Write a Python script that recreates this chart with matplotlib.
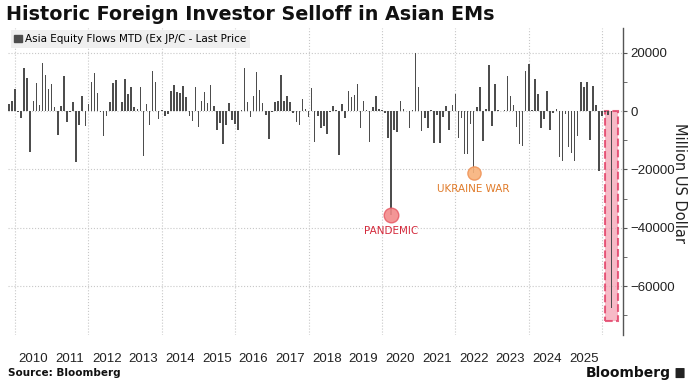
import matplotlib
matplotlib.use('Agg')
import matplotlib.pyplot as plt
import numpy as np
from matplotlib.patches import Patch, Rectangle, FancyBboxPatch

# ── Data (monthly, Million US Dollar) ─────────────────────────
start_year = 2009
start_month = 11          # first bar: Nov 2009
flows = [
    2400, 3300, 7500, -200, -2500, 14600, 11300, -13900, 3300, 9600,
    2000, 16600, 12300, 7400, 9100, 1400, -8200, 1600, 11900, -3800,
    -200, 3000, -17300, -4800, 5100, -5100, 2400, 10100, 13200, 6300,
    -200, -8500, -1600, 3000, 9600, 10500, 0, 3000, 10900,
    5700, 8200, 1400, 700, 8200, -15300, 2300, -4800, 13700, 9900,
    -2700, 200, -1600, -900, 6800, 8900, 6500, 6200, 8600, 4800,
    -1800, -3400, 8200, -5600, 3600, 6500, 2700, 8900, 1600, -6400,
    -4000, -11400, -4800, 2700, -3200, -4600, -6400, 500, 14800,
    3000, -2100, 5100, 13500, 7200, 2900, -1400, -9600, -500, 3200,
    3600, 12300, 3600, 5100, 3000, -800, -3900, -4800, 4100, 600,
    -2200, 7800, -10500, -1800, -5900, -5200, -7800, -200, 1600, 200,
    -15000, 2400, -2300, 6800, 4800, 5500, 9100, -5900, 3600,
    200, -10500, 1400, 5100, 600, 200, -800, -9100, -35500, -6400,
    -7300, 3600, 600, 0, -5700, 200, 19800, 8200, -6800, -2500,
    -5700, 200, -10900, -1400, -10900, -2100, 1800, -6400, 2100, 5900,
    -9100, -2300, -14800, -14600, -4600, -21300, 1400, 8200,
    -10300, 700, 15700, -5200, 9300, 200, -100, 200, 12000, 5200,
    2100, -5500, -11200, -11900, 13700, 16100, 200, 10900, 6000, -5900,
    -2700, 7000, -6600, -700, 700, -15600, -17100, -900, -12300, -14400,
    -17100, -8400, 10000, 8200, 9800, -10000, 8700, 2100, -20700, -1800,
    -500, -1500, -67600,
]
years = list(range(2010, 2026))
events = [("PANDEMIC", 125, '#d42a3c', '#f28b8b', '#e8606a', 10.5),
          ("UKRAINE WAR", 152, '#e07b2a', '#f8b27a', '#f0955a', 9.5)]

# positions in fractional years
x = start_year + (start_month - 1) / 12 + np.arange(len(flows)) / 12

# ── Figure ────────────────────────────────────────────────────
fig = plt.figure(figsize=(6.95, 3.87), dpi=100)
ax = fig.add_axes([0.0115, 0.134, 0.885, 0.794])

ax.bar(x, flows, width=0.042, color='#4d4d4d', zorder=3)

ax.set_xlim(2009.81, 2026.57)
ax.set_ylim(-76800, 28500)

# vertical gridlines on even years, labels centred on each year
ax.set_xticks(np.arange(2010, 2027, 2))
ax.set_xticklabels([])
ax.set_xticks([y + 0.5 for y in years], minor=True)
ax.set_xticklabels([str(y) for y in years], minor=True)
ax.tick_params(axis='x', which='both', length=0, pad=13,
               labelsize=9.5, labelcolor='#222222')
ax.grid(True, axis='x', which='major', linestyle=':', color='#c8c8c8', lw=0.8)

ax.yaxis.tick_right()
ax.set_yticks([20000, 0, -20000, -40000, -60000])
ax.set_yticks(np.arange(-70000, 28000, 10000), minor=True)
ax.tick_params(axis='y', which='major', length=3, color='#555555',
               labelsize=9.5, labelcolor='#222222', pad=2)
ax.tick_params(axis='y', which='minor', length=3, color='#555555')
ax.grid(True, axis='y', which='major', linestyle=':', color='#c8c8c8', lw=0.8)
for lab in ax.get_xticklabels(minor=True) + ax.get_yticklabels():
    lab.set_family('Liberation Sans')

for s in ['left', 'top', 'bottom']:
    ax.spines[s].set_visible(False)
ax.spines['right'].set_color('#555555')
ax.spines['right'].set_linewidth(1)

# event markers
for name, i, tcol, fcol, ecol, ms in events:
    ax.plot(x[i], flows[i], 'o', ms=ms, mfc=fcol, mec=ecol, mew=1,
            alpha=0.9, zorder=4)
    ax.annotate(name, (x[i], flows[i]), xytext=(0, -8),
                textcoords='offset points', ha='center', va='top',
                fontsize=7.5, color=tcol)

# highlight of latest month
ax.add_patch(Rectangle((x[-1] - 0.17, -72000), 0.34, 72000,
                       facecolor='#f5a3b5', alpha=0.75, edgecolor='#e0305a',
                       linestyle='--', lw=1.5, zorder=2))

ax.legend(handles=[Patch(color='#4d4d4d',
                         label='Asia Equity Flows MTD (Ex JP/C - Last Price')],
          loc='upper left', bbox_to_anchor=(0, 1), borderaxespad=0.25,
          fontsize=7.5, frameon=True, facecolor='#efefef', edgecolor='none',
          fancybox=False, framealpha=1, handlelength=0.7, handleheight=0.7,
          handletextpad=0.3, borderpad=0.35)

fig.text(0.009, 0.963, 'Historic Foreign Investor Selloff in Asian EMs',
         fontsize=13.8, fontweight='bold', va='center', color='#111111')
fig.text(0.978, 0.527, 'Million US Dollar', rotation=270, fontsize=10.5,
         ha='center', va='center', color='#222222')
fig.text(0.012, 0.036, 'Source: Bloomberg', fontsize=7.5, fontweight='bold',
         va='center', color='#111111')
fig.text(0.965, 0.036, 'Bloomberg', fontsize=10, fontweight='bold',
         ha='right', va='center', color='#111111')
fig.patches.append(FancyBboxPatch((0.973, 0.024), 0.011, 0.024,
                                  boxstyle='round,pad=0.001',
                                  transform=fig.transFigure,
                                  facecolor='#222222', edgecolor='none'))

fig.savefig('out.png', dpi=100, facecolor='white')
